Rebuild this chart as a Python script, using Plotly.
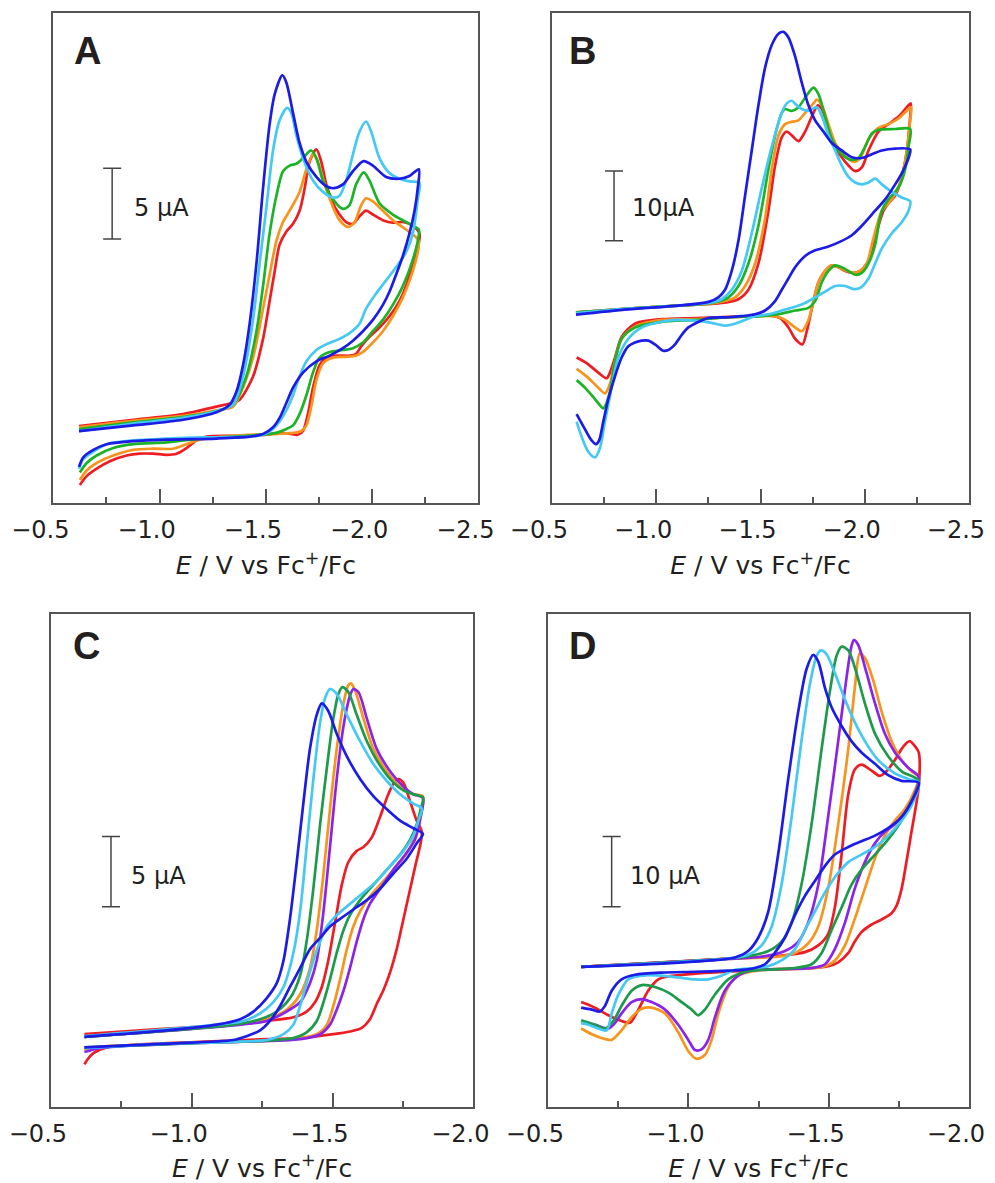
import plotly.graph_objects as go

# ---------------- data: (E / V vs Fc+/Fc, I / uA) ----------------
# Panel A
A_RED = [(-0.621, 5.46), (-0.876, 5.91), (-1.111, 6.31), (-1.268, 6.84), (-1.346, 7.11), (-1.377, 7.32), (-1.440, 8.97), (-1.487, 11.63), (-1.518, 14.30), (-1.542, 16.43), (-1.565, 18.29), (-1.597, 19.22), (-1.628, 19.76), (-1.659, 20.69), (-1.683, 22.28), (-1.706, 24.15), (-1.738, 25.03), (-1.761, 24.15), (-1.785, 22.55), (-1.816, 21.22), (-1.847, 20.42), (-1.878, 19.89), (-1.910, 19.76), (-1.941, 20.29), (-1.972, 20.69), (-2.004, 20.42), (-2.051, 20.02), (-2.098, 19.84), (-2.145, 19.89), (-2.192, 19.62), (-2.223, 19.09),
         (-2.215, 18.02), (-2.192, 16.96), (-2.160, 15.36), (-2.129, 14.30), (-2.082, 13.23), (-2.035, 12.43), (-1.988, 11.77), (-1.949, 11.10), (-1.925, 10.57), (-1.894, 10.44), (-1.831, 10.44), (-1.785, 10.30), (-1.753, 9.77), (-1.722, 8.17), (-1.698, 6.31), (-1.675, 5.11), (-1.651, 4.85), (-1.612, 4.93), (-1.565, 4.98), (-1.503, 4.85), (-1.346, 4.77), (-1.221, 4.71), (-1.174, 4.45), (-1.127, 3.91), (-1.080, 3.51), (-1.033, 3.43), (-0.970, 3.51), (-0.907, 3.51), (-0.845, 3.38), (-0.766, 2.98), (-0.704, 2.45), (-0.657, 1.92), (-0.625, 1.30)]
A_ORANGE = [(-0.621, 5.38), (-0.876, 5.83), (-1.111, 6.18), (-1.268, 6.58), (-1.346, 6.84), (-1.377, 7.64), (-1.440, 10.30), (-1.487, 13.76), (-1.518, 16.16), (-1.550, 18.56), (-1.581, 19.89), (-1.612, 20.69), (-1.659, 22.02), (-1.691, 23.62), (-1.722, 24.68), (-1.745, 24.15), (-1.777, 22.55), (-1.816, 20.95), (-1.847, 20.02), (-1.886, 19.54), (-1.918, 19.89), (-1.949, 21.09), (-1.972, 21.57), (-2.004, 21.35), (-2.051, 20.69), (-2.098, 20.02), (-2.160, 19.36), (-2.215, 18.69),
            (-2.220, 18.29), (-2.192, 16.43), (-2.145, 14.56), (-2.098, 13.23), (-2.051, 12.17), (-2.004, 11.37), (-1.957, 10.70), (-1.925, 10.44), (-1.878, 10.36), (-1.816, 10.30), (-1.769, 9.90), (-1.738, 8.71), (-1.714, 6.84), (-1.691, 5.51), (-1.667, 5.11), (-1.628, 4.98), (-1.581, 4.93), (-1.346, 4.77), (-1.189, 4.50), (-1.127, 4.18), (-1.064, 3.86), (-0.970, 3.86), (-0.876, 3.78), (-0.782, 3.38), (-0.704, 2.85), (-0.657, 2.32), (-0.625, 1.65)]
A_GREEN = [(-0.621, 5.25), (-0.876, 5.72), (-1.111, 6.10), (-1.268, 6.52), (-1.346, 6.98), (-1.408, 8.97), (-1.456, 12.17), (-1.487, 15.36), (-1.518, 19.09), (-1.550, 21.75), (-1.581, 23.48), (-1.612, 23.88), (-1.644, 24.01), (-1.675, 24.41), (-1.714, 24.95), (-1.738, 24.41), (-1.769, 22.82), (-1.816, 21.49), (-1.863, 20.82), (-1.894, 21.09), (-1.925, 22.55), (-1.961, 23.40), (-1.988, 22.82), (-2.035, 21.22), (-2.098, 20.42), (-2.160, 19.89), (-2.220, 19.36),
           (-2.220, 18.96), (-2.192, 17.23), (-2.145, 15.36), (-2.098, 14.03), (-2.051, 12.97), (-2.004, 12.17), (-1.957, 11.37), (-1.910, 10.97), (-1.863, 10.84), (-1.800, 10.70), (-1.753, 10.30), (-1.722, 9.24), (-1.691, 7.64), (-1.659, 6.31), (-1.628, 5.51), (-1.597, 5.25), (-1.550, 4.98), (-1.471, 4.85), (-1.346, 4.71), (-1.189, 4.58), (-1.033, 4.31), (-0.876, 4.18), (-0.782, 3.91), (-0.704, 3.38), (-0.657, 2.85), (-0.625, 2.18)]
A_CYAN = [(-0.621, 5.11), (-0.876, 5.64), (-1.111, 6.04), (-1.268, 6.52), (-1.346, 6.98), (-1.393, 8.97), (-1.440, 12.97), (-1.471, 16.96), (-1.503, 20.95), (-1.534, 24.95), (-1.565, 27.08), (-1.600, 27.96), (-1.620, 27.61), (-1.644, 26.01), (-1.675, 24.41), (-1.722, 22.82), (-1.769, 22.02), (-1.816, 21.62), (-1.847, 21.75), (-1.878, 22.82), (-1.910, 24.68), (-1.941, 26.28), (-1.972, 27.00), (-1.996, 26.28), (-2.035, 24.41), (-2.082, 23.35), (-2.129, 22.95), (-2.176, 22.76), (-2.223, 22.68),
          (-2.215, 21.49), (-2.192, 19.09), (-2.160, 17.76), (-2.113, 16.69), (-2.066, 15.76), (-2.019, 14.83), (-1.972, 13.76), (-1.941, 12.70), (-1.894, 12.03), (-1.847, 11.63), (-1.785, 11.24), (-1.738, 10.84), (-1.691, 10.04), (-1.659, 8.97), (-1.628, 7.64), (-1.597, 6.58), (-1.565, 5.78), (-1.534, 5.25), (-1.487, 4.85), (-1.424, 4.71), (-1.189, 4.66), (-1.033, 4.58), (-0.876, 4.45), (-0.751, 4.18), (-0.688, 3.65), (-0.641, 3.12), (-0.621, 2.45)]
A_BLUE = [(-0.621, 5.11), (-0.876, 5.51), (-1.111, 5.91), (-1.268, 6.44), (-1.330, 6.98), (-1.362, 7.91), (-1.393, 9.77), (-1.424, 12.70), (-1.456, 16.96), (-1.487, 22.28), (-1.518, 26.81), (-1.542, 28.94), (-1.578, 30.27), (-1.597, 29.74), (-1.628, 27.61), (-1.659, 25.48), (-1.691, 24.15), (-1.738, 23.08), (-1.785, 22.42), (-1.816, 22.28), (-1.863, 22.55), (-1.910, 23.48), (-1.960, 24.20), (-2.004, 23.88), (-2.066, 23.08), (-2.129, 22.95), (-2.176, 23.14), (-2.220, 23.62),
          (-2.215, 22.28), (-2.200, 20.69), (-2.176, 19.09), (-2.145, 17.49), (-2.113, 16.16), (-2.082, 14.96), (-2.051, 14.03), (-2.004, 12.97), (-1.957, 12.17), (-1.910, 11.50), (-1.863, 10.97), (-1.800, 10.44), (-1.738, 10.04), (-1.675, 9.24), (-1.628, 8.17), (-1.597, 7.11), (-1.565, 6.04), (-1.534, 5.38), (-1.487, 4.90), (-1.424, 4.71), (-1.268, 4.58), (-1.033, 4.50), (-0.876, 4.39), (-0.751, 4.18), (-0.688, 3.78), (-0.641, 3.25), (-0.621, 2.58)]

# Panel B
B_RED = [(-0.615, 27.39), (-0.866, 27.93), (-1.106, 28.36), (-1.314, 28.74), (-1.394, 29.28), (-1.442, 30.63), (-1.490, 34.41), (-1.538, 41.98), (-1.570, 48.46), (-1.602, 52.51), (-1.626, 53.32), (-1.650, 52.78), (-1.682, 51.97), (-1.714, 53.32), (-1.746, 55.48), (-1.775, 57.10), (-1.794, 56.56), (-1.826, 53.86), (-1.858, 51.16), (-1.906, 49.00), (-1.954, 47.65), (-1.986, 48.19), (-2.018, 50.62), (-2.066, 53.32), (-2.114, 54.40), (-2.162, 55.48), (-2.210, 57.10), (-2.221, 57.37),
         (-2.218, 55.48), (-2.202, 50.62), (-2.178, 46.84), (-2.146, 44.14), (-2.114, 43.06), (-2.090, 41.98), (-2.066, 39.82), (-2.042, 37.11), (-2.010, 34.41), (-1.978, 33.33), (-1.946, 33.06), (-1.906, 33.33), (-1.874, 33.87), (-1.842, 34.14), (-1.810, 33.33), (-1.778, 31.71), (-1.746, 27.93), (-1.722, 24.69), (-1.701, 22.80), (-1.666, 23.61), (-1.634, 25.23), (-1.594, 26.58), (-1.538, 26.96), (-1.474, 26.85), (-1.346, 26.74), (-1.186, 26.58), (-1.026, 26.42), (-0.898, 25.77), (-0.834, 23.88), (-0.802, 20.91), (-0.778, 18.75), (-0.762, 17.94), (-0.722, 18.75), (-0.666, 20.10), (-0.618, 20.91)]
B_ORANGE = [(-0.615, 27.28), (-0.866, 27.93), (-1.106, 28.36), (-1.282, 28.74), (-1.378, 29.55), (-1.426, 31.17), (-1.474, 34.41), (-1.522, 40.90), (-1.554, 47.92), (-1.586, 52.78), (-1.618, 54.40), (-1.642, 54.67), (-1.682, 54.94), (-1.714, 56.02), (-1.754, 57.37), (-1.770, 57.91), (-1.794, 57.10), (-1.826, 54.40), (-1.858, 51.70), (-1.906, 49.81), (-1.946, 49.00), (-1.978, 49.54), (-2.018, 52.24), (-2.066, 53.86), (-2.114, 54.40), (-2.162, 55.21), (-2.210, 56.56), (-2.223, 56.83),
            (-2.218, 54.94), (-2.202, 50.62), (-2.178, 46.84), (-2.146, 44.41), (-2.114, 43.06), (-2.082, 41.98), (-2.058, 39.82), (-2.034, 37.11), (-2.010, 34.41), (-1.978, 33.33), (-1.946, 33.06), (-1.906, 33.44), (-1.874, 33.87), (-1.842, 34.14), (-1.810, 33.33), (-1.778, 31.71), (-1.754, 29.01), (-1.730, 26.31), (-1.698, 24.69), (-1.666, 25.23), (-1.618, 26.31), (-1.570, 26.85), (-1.474, 26.85), (-1.346, 26.69), (-1.186, 26.42), (-1.026, 26.31), (-0.898, 25.34), (-0.834, 23.61), (-0.802, 20.37), (-0.778, 17.13), (-0.754, 15.77), (-0.722, 16.59), (-0.666, 18.21), (-0.618, 19.29)]
B_GREEN = [(-0.615, 27.39), (-0.866, 27.93), (-1.106, 28.36), (-1.266, 28.74), (-1.346, 29.55), (-1.394, 31.17), (-1.442, 34.41), (-1.490, 39.82), (-1.538, 47.92), (-1.570, 52.78), (-1.602, 56.02), (-1.618, 56.56), (-1.650, 56.29), (-1.682, 56.83), (-1.714, 58.18), (-1.754, 59.65), (-1.778, 58.72), (-1.810, 55.48), (-1.842, 52.24), (-1.890, 50.08), (-1.938, 49.27), (-1.970, 49.54), (-2.002, 51.16), (-2.034, 53.05), (-2.066, 53.59), (-2.146, 53.70), (-2.218, 53.70),
           (-2.210, 51.16), (-2.194, 47.92), (-2.170, 45.76), (-2.146, 44.68), (-2.114, 43.60), (-2.082, 41.98), (-2.066, 39.82), (-2.050, 37.11), (-2.018, 34.41), (-1.986, 33.06), (-1.954, 32.79), (-1.922, 33.33), (-1.890, 33.87), (-1.858, 34.14), (-1.826, 33.33), (-1.794, 31.71), (-1.762, 29.01), (-1.730, 28.04), (-1.666, 27.66), (-1.586, 27.12), (-1.506, 26.85), (-1.346, 26.69), (-1.186, 26.31), (-1.026, 26.04), (-0.898, 25.23), (-0.834, 23.61), (-0.802, 20.37), (-0.778, 16.05), (-0.754, 13.88), (-0.746, 13.61), (-0.706, 14.96), (-0.658, 16.59), (-0.618, 17.67)]
B_CYAN = [(-0.615, 27.28), (-0.866, 27.93), (-1.106, 28.36), (-1.250, 28.74), (-1.314, 29.28), (-1.362, 30.63), (-1.410, 33.33), (-1.458, 38.74), (-1.506, 45.22), (-1.554, 51.16), (-1.602, 56.02), (-1.626, 57.37), (-1.650, 57.75), (-1.674, 57.10), (-1.698, 56.56), (-1.730, 56.29), (-1.770, 56.83), (-1.802, 54.94), (-1.826, 52.78), (-1.858, 50.62), (-1.890, 48.46), (-1.922, 46.84), (-1.954, 46.03), (-1.986, 45.76), (-2.018, 46.03), (-2.050, 46.57), (-2.082, 45.76), (-2.130, 44.68), (-2.178, 43.87), (-2.218, 43.33),
          (-2.210, 41.98), (-2.178, 40.36), (-2.130, 38.74), (-2.082, 36.57), (-2.050, 34.41), (-2.018, 32.25), (-1.978, 30.90), (-1.946, 30.74), (-1.906, 31.17), (-1.858, 31.17), (-1.810, 30.36), (-1.762, 29.55), (-1.714, 28.74), (-1.666, 28.20), (-1.602, 27.66), (-1.538, 27.12), (-1.474, 26.85), (-1.378, 25.77), (-1.330, 25.50), (-1.266, 25.88), (-1.186, 26.20), (-1.106, 26.31), (-1.026, 26.04), (-0.930, 25.23), (-0.866, 23.61), (-0.818, 20.91), (-0.786, 16.59), (-0.754, 11.72), (-0.730, 7.94), (-0.706, 6.59), (-0.674, 7.40), (-0.642, 9.56), (-0.618, 11.72)]
B_BLUE = [(-0.615, 27.07), (-0.866, 27.82), (-1.106, 28.36), (-1.250, 28.90), (-1.298, 29.55), (-1.330, 30.63), (-1.362, 33.33), (-1.394, 37.65), (-1.426, 44.14), (-1.458, 50.62), (-1.490, 57.10), (-1.522, 62.51), (-1.554, 65.75), (-1.586, 67.37), (-1.610, 67.64), (-1.634, 66.83), (-1.666, 64.13), (-1.698, 60.35), (-1.730, 57.10), (-1.762, 54.94), (-1.802, 53.32), (-1.842, 51.70), (-1.890, 50.62), (-1.938, 49.65), (-1.986, 49.54), (-2.034, 50.08), (-2.082, 50.62), (-2.146, 50.89), (-2.218, 50.78),
          (-2.210, 49.54), (-2.178, 47.38), (-2.146, 45.76), (-2.098, 43.60), (-2.050, 41.98), (-1.986, 39.82), (-1.938, 38.46), (-1.890, 37.65), (-1.826, 36.84), (-1.762, 36.30), (-1.714, 35.49), (-1.666, 33.87), (-1.634, 32.25), (-1.602, 30.63), (-1.570, 29.01), (-1.522, 27.66), (-1.474, 27.12), (-1.410, 26.85), (-1.346, 26.69), (-1.250, 26.58), (-1.154, 25.23), (-1.122, 24.15), (-1.090, 22.80), (-1.058, 21.99), (-1.034, 21.88), (-0.994, 22.80), (-0.962, 23.34), (-0.930, 23.34), (-0.898, 23.07), (-0.866, 22.53), (-0.834, 20.91), (-0.802, 18.21), (-0.770, 14.96), (-0.746, 11.72), (-0.726, 9.02), (-0.711, 8.48), (-0.690, 9.02), (-0.658, 10.64), (-0.618, 12.80)]

# Panel C
C_RED = [(-0.619, 5.20), (-0.911, 5.60), (-1.148, 5.88), (-1.266, 6.14), (-1.361, 6.41), (-1.408, 6.81), (-1.438, 7.48), (-1.462, 8.56), (-1.485, 10.44), (-1.509, 13.13), (-1.533, 15.82), (-1.556, 17.43), (-1.586, 18.24), (-1.610, 18.51), (-1.639, 19.18), (-1.669, 20.66), (-1.698, 22.27), (-1.722, 23.21), (-1.734, 23.35), (-1.752, 23.08), (-1.776, 21.73), (-1.799, 20.39), (-1.813, 19.85), (-1.817, 19.59),
         (-1.813, 18.78), (-1.797, 17.43), (-1.776, 15.55), (-1.752, 13.40), (-1.728, 11.25), (-1.705, 9.63), (-1.681, 8.34), (-1.657, 7.35), (-1.633, 6.27), (-1.604, 5.65), (-1.562, 5.39), (-1.503, 5.20), (-1.385, 4.93), (-1.266, 4.85), (-1.030, 4.66), (-0.793, 4.44), (-0.698, 4.26), (-0.651, 3.85), (-0.630, 3.40), (-0.619, 3.05)]
C_ORANGE = [(-0.619, 5.01), (-1.148, 5.88), (-1.266, 6.27), (-1.337, 6.94), (-1.385, 8.02), (-1.420, 9.90), (-1.444, 12.59), (-1.468, 16.63), (-1.491, 21.20), (-1.515, 25.50), (-1.539, 28.73), (-1.556, 30.02), (-1.565, 30.16), (-1.580, 29.67), (-1.610, 27.65), (-1.645, 25.50), (-1.693, 23.89), (-1.740, 22.81), (-1.787, 22.27), (-1.821, 22.13),
            (-1.813, 20.66), (-1.799, 19.59), (-1.770, 18.24), (-1.728, 17.16), (-1.681, 16.09), (-1.633, 15.01), (-1.598, 13.93), (-1.574, 12.86), (-1.551, 11.25), (-1.527, 9.10), (-1.503, 7.21), (-1.480, 5.88), (-1.444, 5.20), (-1.385, 4.93), (-1.266, 4.74), (-0.911, 4.53), (-0.674, 4.31), (-0.619, 4.12)]
C_PURPLE = [(-0.619, 5.01), (-1.148, 5.82), (-1.266, 6.14), (-1.337, 6.81), (-1.385, 7.48), (-1.420, 8.83), (-1.444, 10.44), (-1.468, 13.93), (-1.491, 18.51), (-1.515, 23.35), (-1.539, 27.11), (-1.562, 29.27), (-1.574, 29.75), (-1.592, 29.54), (-1.622, 27.65), (-1.657, 25.50), (-1.705, 23.89), (-1.752, 22.81), (-1.787, 22.27), (-1.821, 22.00),
            (-1.813, 20.66), (-1.793, 19.05), (-1.758, 17.97), (-1.716, 16.90), (-1.669, 15.55), (-1.633, 14.47), (-1.610, 13.40), (-1.586, 11.79), (-1.562, 9.90), (-1.539, 8.29), (-1.515, 6.94), (-1.491, 5.88), (-1.456, 5.20), (-1.385, 4.85), (-1.030, 4.58), (-0.793, 4.39), (-0.674, 4.20), (-0.619, 3.93)]
C_GREEN = [(-0.619, 5.01), (-1.148, 5.88), (-1.243, 6.27), (-1.302, 6.81), (-1.349, 7.75), (-1.385, 9.37), (-1.408, 11.79), (-1.432, 15.55), (-1.456, 20.12), (-1.480, 24.15), (-1.503, 27.65), (-1.521, 29.40), (-1.535, 29.89), (-1.556, 29.54), (-1.586, 27.92), (-1.622, 26.04), (-1.657, 24.69), (-1.705, 23.35), (-1.752, 22.54), (-1.787, 22.27), (-1.821, 22.05),
           (-1.813, 21.20), (-1.799, 20.12), (-1.776, 19.05), (-1.740, 17.97), (-1.693, 16.90), (-1.645, 15.82), (-1.598, 14.74), (-1.562, 13.67), (-1.539, 12.59), (-1.515, 10.98), (-1.491, 9.10), (-1.468, 7.48), (-1.444, 6.14), (-1.408, 5.33), (-1.361, 4.93), (-1.266, 4.74), (-1.030, 4.58), (-0.619, 4.26)]
C_CYAN = [(-0.619, 5.06), (-1.089, 5.88), (-1.183, 6.14), (-1.243, 6.68), (-1.290, 7.48), (-1.326, 8.56), (-1.361, 10.98), (-1.385, 13.93), (-1.408, 18.51), (-1.432, 23.35), (-1.456, 27.38), (-1.474, 29.13), (-1.491, 29.75), (-1.515, 29.40), (-1.551, 27.92), (-1.598, 26.04), (-1.645, 24.42), (-1.693, 23.21), (-1.740, 22.27), (-1.787, 21.60), (-1.817, 21.25),
          (-1.805, 20.39), (-1.787, 19.32), (-1.752, 18.24), (-1.705, 17.16), (-1.657, 16.09), (-1.610, 15.28), (-1.562, 14.47), (-1.515, 13.67), (-1.480, 12.86), (-1.456, 11.79), (-1.432, 10.44), (-1.408, 8.83), (-1.385, 7.21), (-1.361, 5.88), (-1.326, 5.20), (-1.266, 4.79), (-1.148, 4.66), (-0.911, 4.53), (-0.619, 4.20)]
C_BLUE = [(-0.619, 5.01), (-0.911, 5.47), (-1.089, 5.88), (-1.172, 6.27), (-1.219, 6.81), (-1.266, 7.75), (-1.302, 8.83), (-1.326, 10.44), (-1.349, 13.40), (-1.373, 17.43), (-1.397, 21.73), (-1.420, 25.50), (-1.444, 27.92), (-1.462, 28.73), (-1.485, 28.19), (-1.515, 26.57), (-1.551, 24.96), (-1.598, 23.35), (-1.645, 22.13), (-1.693, 21.20), (-1.740, 20.39), (-1.787, 19.85), (-1.821, 19.45),
          (-1.799, 18.78), (-1.764, 17.70), (-1.716, 16.63), (-1.669, 15.55), (-1.622, 14.74), (-1.574, 14.07), (-1.527, 13.40), (-1.491, 12.86), (-1.456, 12.05), (-1.420, 11.25), (-1.385, 9.90), (-1.349, 8.56), (-1.314, 7.21), (-1.278, 6.14), (-1.243, 5.47), (-1.195, 5.06), (-1.148, 4.79), (-0.911, 4.53), (-0.619, 4.26)]

# Panel D
D_RED = [(-0.618, 19.97), (-0.905, 20.61), (-1.142, 21.16), (-1.320, 21.53), (-1.415, 22.07), (-1.463, 23.04), (-1.498, 24.65), (-1.522, 28.42), (-1.546, 35.95), (-1.570, 44.55), (-1.593, 48.05), (-1.617, 48.75), (-1.653, 47.89), (-1.682, 47.14), (-1.706, 47.79), (-1.736, 49.40), (-1.765, 51.28), (-1.789, 52.09), (-1.809, 51.28), (-1.821, 50.47),
         (-1.821, 45.63), (-1.809, 42.40), (-1.795, 39.18), (-1.777, 34.88), (-1.760, 31.11), (-1.742, 28.69), (-1.724, 27.61), (-1.688, 26.70), (-1.653, 26.00), (-1.617, 24.92), (-1.593, 23.58), (-1.570, 21.96), (-1.534, 20.61), (-1.498, 20.08), (-1.439, 19.81), (-1.261, 19.54), (-1.142, 19.28), (-1.024, 19.01), (-0.929, 18.63), (-0.893, 18.20), (-0.857, 16.58), (-0.822, 13.90), (-0.792, 12.01), (-0.762, 12.28), (-0.715, 13.09), (-0.667, 14.17), (-0.618, 14.97)]
D_ORANGE = [(-0.618, 19.97), (-1.142, 21.10), (-1.320, 21.42), (-1.380, 21.96), (-1.427, 23.31), (-1.463, 25.73), (-1.498, 31.11), (-1.534, 40.25), (-1.570, 51.01), (-1.593, 59.62), (-1.611, 64.57), (-1.629, 63.93), (-1.659, 60.69), (-1.688, 56.39), (-1.724, 52.09), (-1.760, 49.40), (-1.795, 47.79), (-1.821, 46.98),
            (-1.801, 44.55), (-1.771, 42.40), (-1.736, 40.79), (-1.700, 38.64), (-1.665, 35.41), (-1.629, 31.11), (-1.593, 26.80), (-1.558, 23.04), (-1.522, 20.89), (-1.487, 20.08), (-1.439, 19.81), (-1.261, 19.54), (-1.178, 18.74), (-1.142, 17.12), (-1.107, 13.36), (-1.083, 9.59), (-1.059, 7.44), (-1.029, 6.90), (-1.000, 7.98), (-0.964, 10.67), (-0.917, 13.36), (-0.869, 14.17), (-0.834, 14.01), (-0.798, 12.82), (-0.762, 10.94), (-0.727, 9.59), (-0.691, 9.86), (-0.656, 10.40), (-0.618, 11.21)]
D_PURPLE = [(-0.618, 19.97), (-1.142, 21.10), (-1.261, 21.42), (-1.344, 22.23), (-1.392, 23.58), (-1.427, 26.27), (-1.463, 31.65), (-1.498, 41.32), (-1.534, 52.09), (-1.564, 61.23), (-1.581, 65.53), (-1.590, 66.45), (-1.605, 65.80), (-1.635, 61.78), (-1.665, 57.47), (-1.700, 53.16), (-1.736, 50.47), (-1.783, 48.32), (-1.821, 46.98),
            (-1.801, 44.02), (-1.771, 41.86), (-1.736, 40.25), (-1.700, 39.18), (-1.665, 37.56), (-1.629, 34.88), (-1.593, 31.11), (-1.558, 26.27), (-1.522, 22.50), (-1.487, 20.35), (-1.439, 19.81), (-1.320, 19.65), (-1.237, 19.54), (-1.178, 18.74), (-1.130, 16.58), (-1.095, 12.82), (-1.071, 9.59), (-1.047, 8.25), (-1.024, 8.14), (-1.000, 9.59), (-0.964, 11.74), (-0.917, 13.90), (-0.869, 14.97), (-0.834, 15.40), (-0.798, 14.97), (-0.762, 13.36), (-0.739, 12.01), (-0.715, 11.21), (-0.667, 11.74), (-0.618, 12.01)]
D_GREEN = [(-0.618, 19.97), (-1.142, 21.16), (-1.202, 21.42), (-1.285, 22.23), (-1.332, 23.58), (-1.368, 26.27), (-1.403, 31.65), (-1.439, 40.25), (-1.475, 51.01), (-1.504, 59.08), (-1.528, 64.20), (-1.546, 65.53), (-1.570, 64.99), (-1.599, 61.78), (-1.629, 57.47), (-1.665, 53.16), (-1.712, 49.93), (-1.760, 47.79), (-1.821, 46.44),
           (-1.795, 43.48), (-1.760, 40.79), (-1.712, 38.10), (-1.665, 35.95), (-1.617, 33.80), (-1.581, 31.65), (-1.546, 28.42), (-1.510, 25.19), (-1.475, 21.96), (-1.439, 20.35), (-1.380, 19.81), (-1.261, 19.54), (-1.202, 19.28), (-1.142, 18.20), (-1.095, 16.05), (-1.059, 13.90), (-1.035, 13.09), (-1.012, 13.90), (-0.976, 14.97), (-0.929, 16.31), (-0.881, 17.12), (-0.834, 17.39), (-0.798, 16.58), (-0.762, 14.43), (-0.733, 12.28), (-0.703, 11.21), (-0.667, 11.74), (-0.618, 12.39)]
D_CYAN = [(-0.618, 19.97), (-1.142, 21.16), (-1.213, 21.69), (-1.261, 23.04), (-1.297, 25.73), (-1.332, 31.65), (-1.368, 41.32), (-1.403, 52.09), (-1.433, 60.16), (-1.457, 64.20), (-1.472, 64.99), (-1.492, 64.47), (-1.522, 61.78), (-1.558, 58.01), (-1.593, 54.78), (-1.629, 52.09), (-1.676, 49.40), (-1.736, 47.51), (-1.783, 46.71), (-1.821, 46.17),
          (-1.795, 42.94), (-1.760, 40.79), (-1.712, 38.64), (-1.665, 37.03), (-1.617, 35.95), (-1.570, 34.88), (-1.522, 32.72), (-1.487, 30.57), (-1.451, 27.88), (-1.415, 25.19), (-1.380, 22.50), (-1.332, 20.89), (-1.285, 20.08), (-1.237, 19.81), (-1.166, 19.54), (-1.119, 18.74), (-1.071, 18.20), (-1.024, 18.20), (-0.964, 18.47), (-0.905, 18.74), (-0.834, 18.74), (-0.786, 18.20), (-0.751, 16.05), (-0.727, 13.36), (-0.709, 10.94), (-0.679, 11.21), (-0.644, 11.74), (-0.618, 12.01)]
D_BLUE = [(-0.618, 19.97), (-0.905, 20.45), (-1.083, 20.89), (-1.166, 21.32), (-1.213, 22.23), (-1.249, 24.12), (-1.285, 27.88), (-1.320, 35.95), (-1.356, 46.71), (-1.392, 56.39), (-1.421, 62.31), (-1.445, 64.36), (-1.463, 63.39), (-1.487, 59.62), (-1.510, 56.93), (-1.546, 54.24), (-1.581, 52.09), (-1.617, 50.47), (-1.665, 48.86), (-1.712, 47.25), (-1.760, 46.44), (-1.821, 46.17),
          (-1.795, 43.48), (-1.760, 41.32), (-1.712, 39.71), (-1.665, 38.64), (-1.617, 37.83), (-1.570, 37.03), (-1.522, 35.95), (-1.487, 34.34), (-1.451, 32.19), (-1.415, 30.03), (-1.380, 27.34), (-1.344, 24.12), (-1.308, 21.96), (-1.273, 20.35), (-1.237, 19.81), (-1.190, 19.54), (-1.142, 19.44), (-1.024, 19.28), (-0.905, 19.17), (-0.810, 18.85), (-0.762, 18.20), (-0.727, 16.58), (-0.703, 14.43), (-0.685, 13.63), (-0.656, 13.90), (-0.618, 14.17)]

PANEL_LABELS = ["A", "B", "C", "D"]
SCALE_VALUES = [5, 10, 5, 10]            # uA
SCALE_TEXTS = ["5 μA", "10μA", "5 μA", "10 μA"]
X_TICKS_AB = [-0.5, -1.0, -1.5, -2.0, -2.5]
X_TICKS_CD = [-0.5, -1.0, -1.5, -2.0]
X_TITLE = "<i>E</i> / V vs Fc<sup>+</sup>/Fc"

# ---------------- styling / layout ----------------
W, H = 995, 1183
RED, ORANGE, CYAN, BLUE, PURPLE = "#ee1d23", "#f7941d", "#45c8f4", "#1c1ce6", "#8b24e8"
GREEN_AB, GREEN_CD = "#1cb326", "#1e9a4c"
FRAME = "#555555"
TXT = "#231f20"
LW = 2.7

panels = [
    dict(ax="", curves=[(A_RED, RED), (A_ORANGE, ORANGE), (A_GREEN, GREEN_AB), (A_CYAN, CYAN), (A_BLUE, BLUE)],
         box=(53.3, 478.3, 13.3, 503.3), xr=[-0.5, -2.5], yr=[0, 34.65], ticks=X_TICKS_AB,
         bar=(-0.777, 21.19), bartext=(131.7, 208), label=(87, 51)),
    dict(ax="2", curves=[(B_RED, RED), (B_ORANGE, ORANGE), (B_GREEN, GREEN_AB), (B_CYAN, CYAN), (B_BLUE, BLUE)],
         box=(552.0, 969.0, 13.3, 503.3), xr=[-0.5, -2.5], yr=[0, 70.3], ticks=X_TICKS_AB,
         bar=(-0.7975, 42.68), bartext=(630, 208), label=(582.7, 51)),
    dict(ax="3", curves=[(C_RED, RED), (C_ORANGE, ORANGE), (C_PURPLE, PURPLE), (C_GREEN, GREEN_CD), (C_CYAN, CYAN), (C_BLUE, BLUE)],
         box=(50.9, 473.3, 614.0, 1107.3), xr=[-0.5, -2.0], yr=[0, 35.09], ticks=X_TICKS_CD,
         bar=(-0.7134, 16.76), bartext=(129.3, 876), label=(86.3, 645.5)),
    dict(ax="4", curves=[(D_RED, RED), (D_ORANGE, ORANGE), (D_PURPLE, PURPLE), (D_GREEN, GREEN_CD), (D_CYAN, CYAN), (D_BLUE, BLUE)],
         box=(548.0, 969.0, 614.0, 1107.3), xr=[-0.5, -2.0], yr=[0, 70.17], ticks=X_TICKS_CD,
         bar=(-0.7268, 33.52), bartext=(627.7, 876), label=(582.2, 646.2)),
]

fig = go.Figure()
layout = dict(width=W, height=H, margin=dict(l=0, r=0, t=0, b=0, autoexpand=False),
              paper_bgcolor="white", plot_bgcolor="white", showlegend=False, annotations=[])

for i, p in enumerate(panels):
    xa, ya = "x" + p["ax"], "y" + p["ax"]
    for pts, col in p["curves"]:
        fig.add_trace(go.Scatter(x=[e for e, _ in pts], y=[c for _, c in pts], mode="lines",
                                 line=dict(color=col, width=LW, shape="spline", smoothing=0.8),
                                 xaxis=xa, yaxis=ya, hoverinfo="skip"))
    # scale bar
    fig.add_trace(go.Scatter(x=[p["bar"][0]], y=[p["bar"][1]], mode="markers",
                             marker=dict(size=1, color="rgba(0,0,0,0)"),
                             error_y=dict(type="constant", value=SCALE_VALUES[i] / 2, width=9,
                                          thickness=1.5, color="#444444"),
                             xaxis=xa, yaxis=ya, hoverinfo="skip"))
    x0, x1, y0, y1 = p["box"]
    axis_font = dict(family="DejaVu Sans", size=24, color=TXT)
    layout["xaxis" + p["ax"]] = dict(
        domain=[x0 / W, x1 / W], range=p["xr"], anchor=ya, showline=True, mirror=True,
        linecolor=FRAME, linewidth=1.5, showgrid=False, zeroline=False, automargin=False,
        tickmode="array", tickvals=p["ticks"], tickformat=".1f",
        ticks="inside", ticklen=15, tickwidth=1.5, tickcolor=FRAME,
        minor=dict(dtick=0.25, tick0=-0.5, ticks="inside", ticklen=7, tickwidth=1.5, tickcolor=FRAME),
        tickfont=axis_font, ticklabelshift=13, ticklabelstandoff=4,
        title=dict(text=X_TITLE, font=dict(family="DejaVu Sans", size=25, color=TXT), standoff=14))
    layout["yaxis" + p["ax"]] = dict(
        domain=[1 - y1 / H, 1 - y0 / H], range=p["yr"], anchor=xa, showline=True, mirror=True,
        linecolor=FRAME, linewidth=1.5, showgrid=False, zeroline=False, automargin=False,
        showticklabels=False, ticks="")
    layout["annotations"].append(dict(
        x=p["bartext"][0] / W, y=1 - p["bartext"][1] / H, xref="paper", yref="paper",
        text=SCALE_TEXTS[i], showarrow=False, xanchor="left", yanchor="middle",
        font=dict(family="DejaVu Sans", size=24, color=TXT)))
    layout["annotations"].append(dict(
        x=p["label"][0] / W, y=1 - p["label"][1] / H, xref="paper", yref="paper",
        text="<b>%s</b>" % PANEL_LABELS[i], showarrow=False, xanchor="center", yanchor="middle",
        font=dict(family="Liberation Sans", size=38, color=TXT)))

fig.update_layout(**layout)
fig.write_html("out.html")
